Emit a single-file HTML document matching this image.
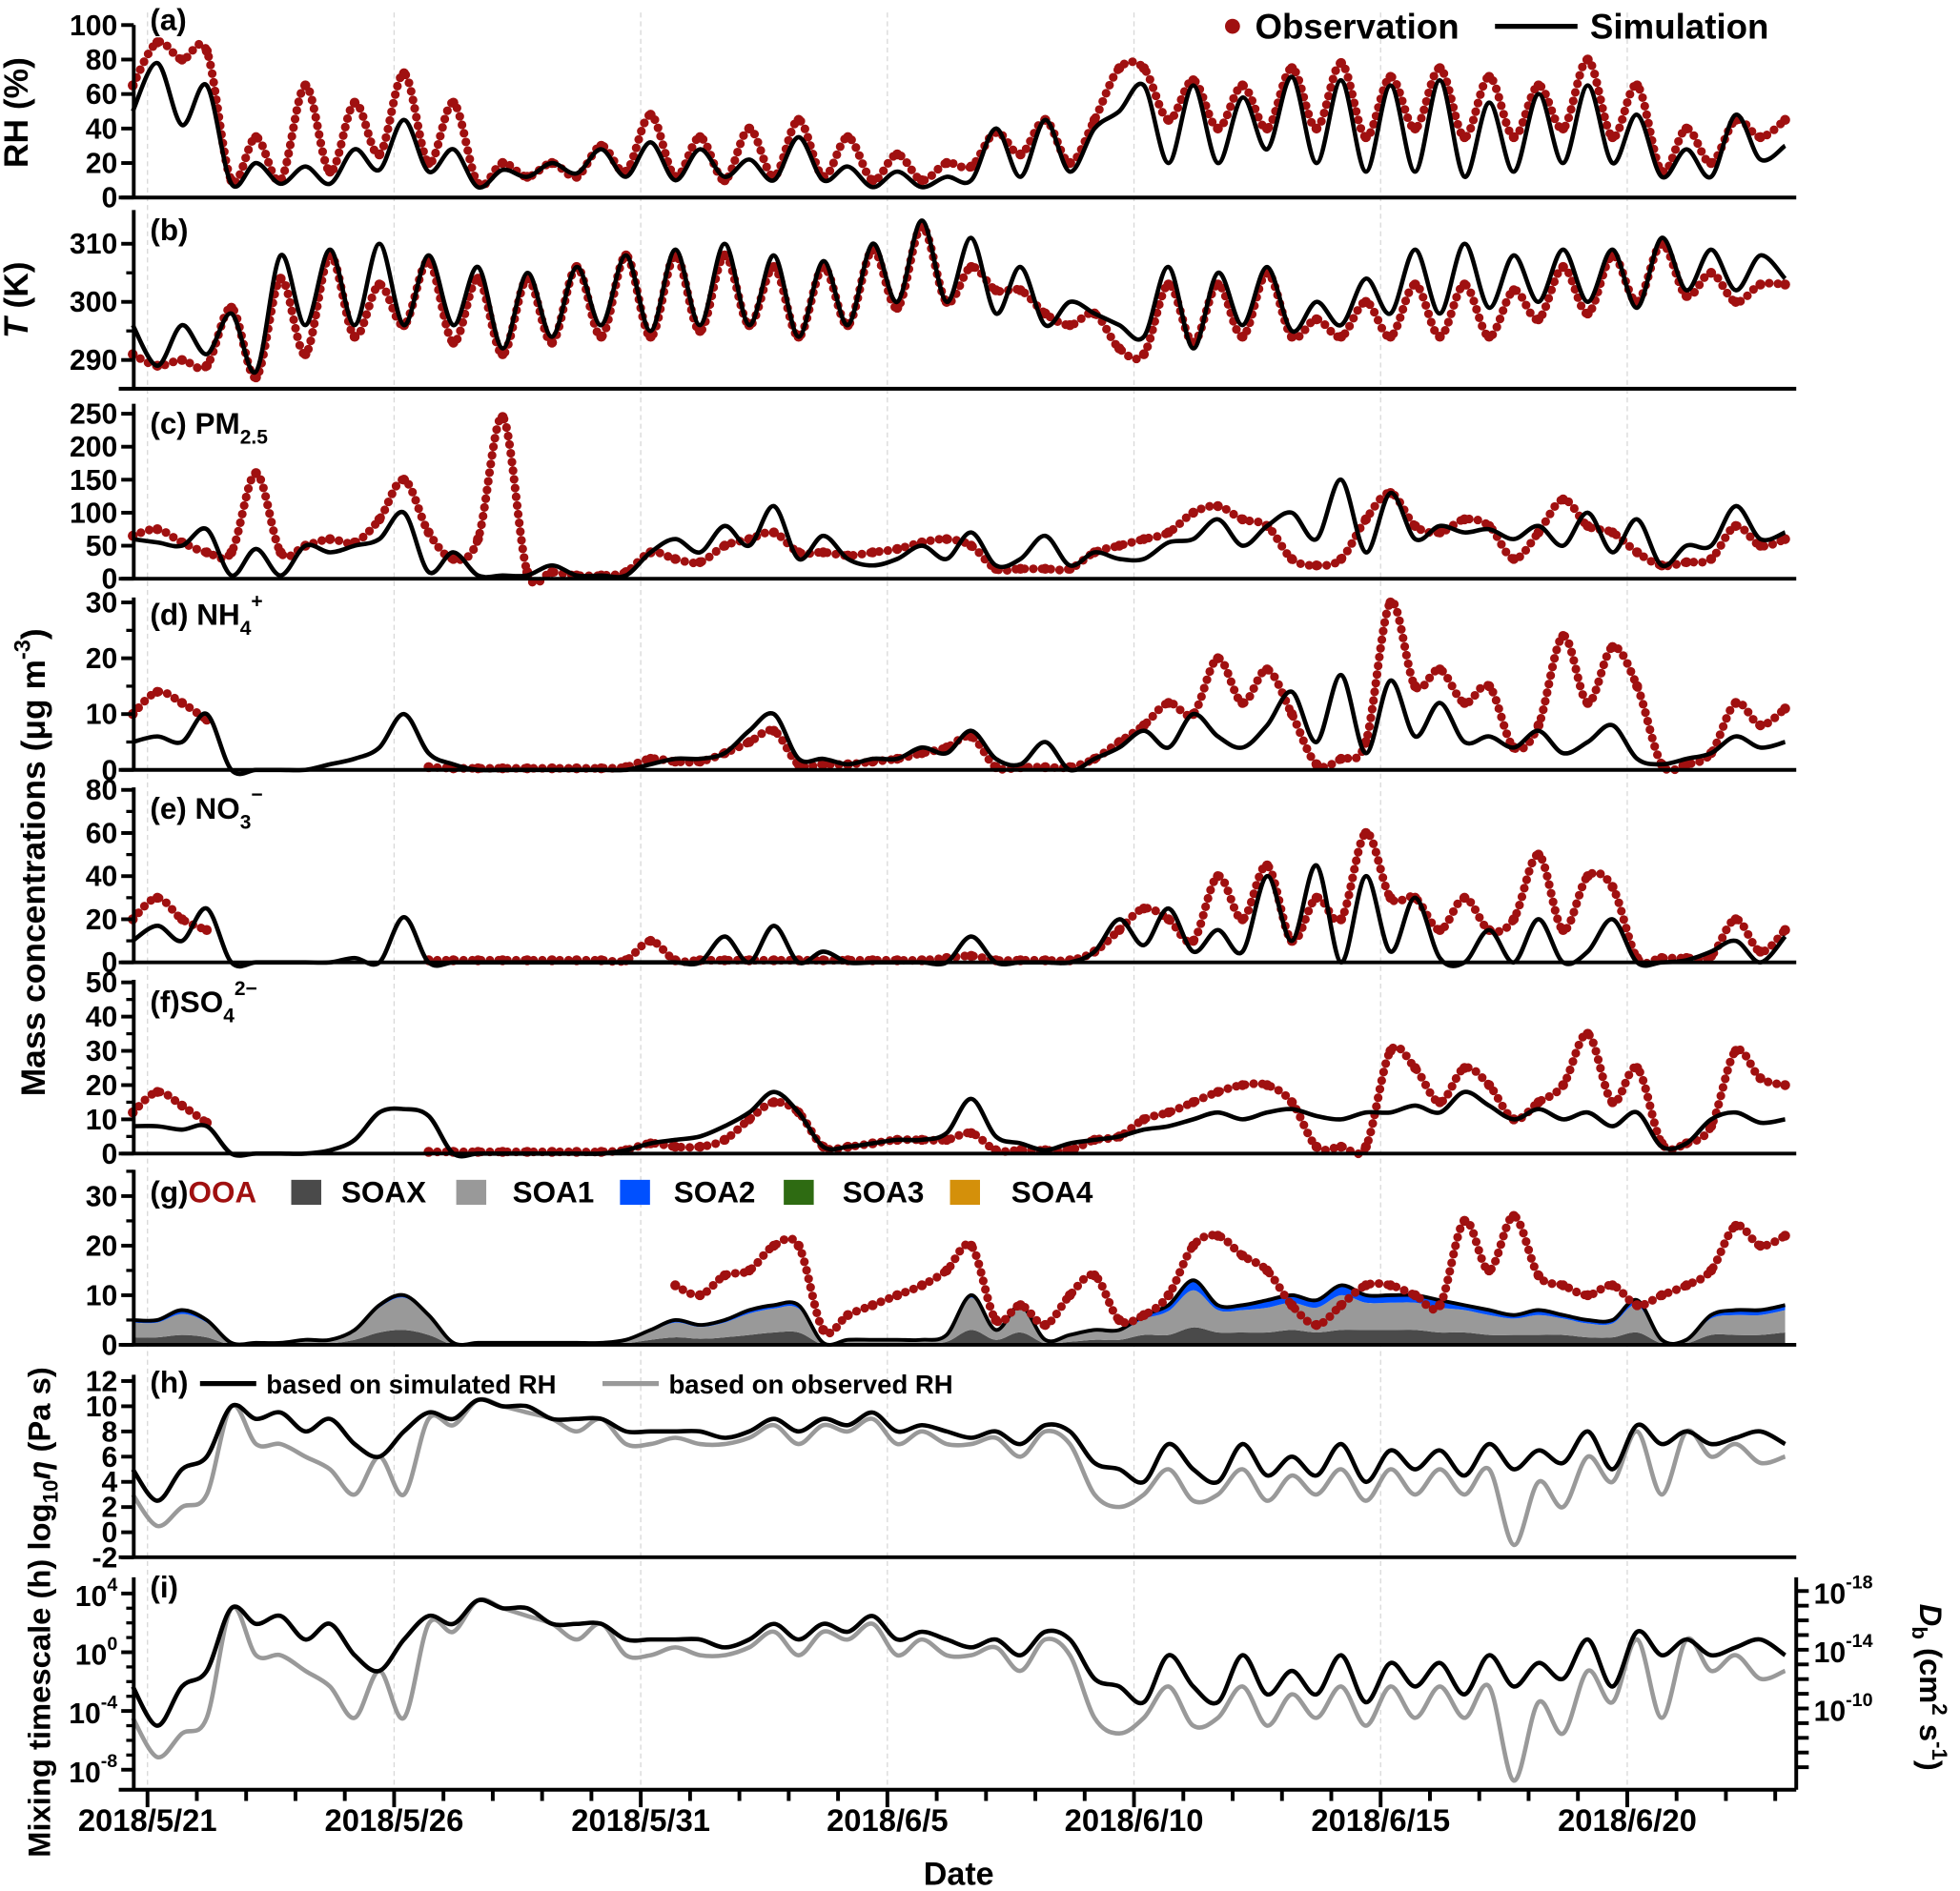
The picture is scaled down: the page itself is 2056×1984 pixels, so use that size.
<!DOCTYPE html>
<html><head><meta charset="utf-8"><title>Time series panels</title>
<style>
html,body{margin:0;padding:0;background:#fff;}
svg{display:block;}
text{font-family:"Liberation Sans Narrow","Liberation Sans",sans-serif;font-weight:bold;fill:#000;}
</style></head>
<body>
<svg id="chart" xmlns="http://www.w3.org/2000/svg" width="2056" height="1984" viewBox="0 0 1568 1513">
<g id="grid"></g>
<g id="panels"></g>
<g id="axes"></g>
<g id="labels">
  <text x="120" y="24" font-size="24">(a)</text>
  <text x="120" y="192" font-size="24">(b)</text>
  <text x="120" y="347" font-size="24">(c) PM<tspan font-size="16" dy="8">2.5</tspan></text>
  <text x="120" y="500" font-size="24">(d) NH<tspan font-size="16" dy="8">4</tspan><tspan font-size="16" dy="-22">+</tspan></text>
  <text x="120" y="655" font-size="24">(e) NO<tspan font-size="16" dy="8">3</tspan><tspan font-size="16" dy="-22">−</tspan></text>
  <text x="120" y="810" font-size="24">(f)SO<tspan font-size="16" dy="8">4</tspan><tspan font-size="16" dy="-22">2−</tspan></text>
  <text x="120" y="962" font-size="24">(g)<tspan fill="#a01010" style="fill:#a01010">OOA</tspan></text>
  <text x="120" y="1114" font-size="24">(h)</text>
  <text x="120" y="1278" font-size="24">(i)</text>

  <circle cx="986" cy="21" r="6" fill="#a01010"/>
  <text x="1004" y="31" font-size="28" font-family="Liberation Sans">Observation</text>
  <line x1="1196" y1="21" x2="1262" y2="21" stroke="#000" stroke-width="4"/>
  <text x="1272" y="31" font-size="28" font-family="Liberation Sans">Simulation</text>

  <rect x="233" y="944" width="24" height="20" fill="#4a4a4a"/>
  <text x="273" y="962" font-size="24">SOAX</text>
  <rect x="365" y="944" width="24" height="20" fill="#999"/>
  <text x="410" y="962" font-size="24">SOA1</text>
  <rect x="496" y="944" width="24" height="20" fill="#0050ff"/>
  <text x="539" y="962" font-size="24">SOA2</text>
  <rect x="627" y="944" width="24" height="20" fill="#2e6b12"/>
  <text x="674" y="962" font-size="24">SOA3</text>
  <rect x="760" y="944" width="24" height="20" fill="#d4900a"/>
  <text x="809" y="962" font-size="24">SOA4</text>

  <line x1="160" y1="1107" x2="205" y2="1107" stroke="#000" stroke-width="4"/>
  <text x="213" y="1115" font-size="21">based on simulated RH</text>
  <line x1="482" y1="1107" x2="527" y2="1107" stroke="#999" stroke-width="4"/>
  <text x="535" y="1115" font-size="21">based on observed RH</text>

  <text transform="translate(22,90) rotate(-90)" text-anchor="middle" font-size="27" font-family="Liberation Sans">RH (%)</text>
  <text transform="translate(22,240) rotate(-90)" text-anchor="middle" font-size="27" font-family="Liberation Sans"><tspan font-style="italic">T</tspan> (K)</text>
  <text transform="translate(36,690) rotate(-90)" text-anchor="middle" font-size="27" font-family="Liberation Sans">Mass concentrations (μg m<tspan font-size="18" dy="-12">-3</tspan><tspan dy="12">)</tspan></text>
  <text transform="translate(40,1290) rotate(-90)" text-anchor="middle" font-size="25" font-family="Liberation Sans">Mixing timescale (h)  log<tspan font-size="17" dy="6">10</tspan><tspan dy="-6" font-style="italic">η</tspan> (Pa s)</text>
  <text transform="translate(1536,1350) rotate(90)" text-anchor="middle" font-size="25" font-family="Liberation Sans"><tspan font-style="italic">D</tspan><tspan font-size="17" dy="6">b</tspan><tspan dy="-6"> (cm</tspan><tspan font-size="17" dy="-10">2</tspan><tspan dy="10"> s</tspan><tspan font-size="17" dy="-10">-1</tspan><tspan dy="10">)</tspan></text>
  <text x="767" y="1508" text-anchor="middle" font-size="26" font-family="Liberation Sans">Date</text>
</g>
<script>
// ---- data (12-hour samples starting 2018/5/20 16:48) ----
const dayStart = -0.3;
const dayStep = 0.5;
const rhSim = [50,78,42,65,8,20,8,18,8,28, 16,45,15,28,6,16,12,20,14,28, 12,32,10,28,12,22,10,35,10,18, 6,15,6,12,10,40,12,45,15,40, 50,65,20,65,20,58,28,70,20,68, 15,65,15,68,12,55,15,60,20,65, 20,48,12,28,12,48,22,30];
const rhObs = [65,90,80,85,10,35,10,65,15,55, 25,72,20,55,8,20,12,20,12,30, 15,48,12,35,10,40,12,45,12,35, 10,25,10,20,18,38,25,45,20,45, 75,75,45,68,40,65,40,75,40,78, 35,70,40,75,35,70,35,65,40,80, 35,65,15,40,20,45,35,45];
const tSim = [296,289,296,291,298,288,308,296,309,296, 310,296,308,296,306,292,305,294,306,296, 308,295,309,296,310,296,308,294,307,296, 310,300,314,300,311,298,306,296,300,298, 296,294,306,292,305,296,306,295,300,296, 304,298,309,298,310,299,308,300,309,300, 309,299,311,302,309,302,308,304];
const tObs = [291,289,290,289,299,287,304,291,308,294, 303,296,307,293,304,291,304,293,306,294, 308,294,308,295,308,296,306,294,306,296, 309,299,313,300,306,302,302,298,296,298, 292,291,303,293,303,294,305,294,297,294, 300,294,303,294,303,294,302,297,306,298, 308,300,310,301,305,300,303,303];
const pmSim = [60,55,50,75,5,45,5,50,40,50, 60,100,10,40,5,5,5,20,5,5, 5,40,60,40,80,50,110,30,65,30, 20,30,50,30,70,20,30,65,20,40, 30,30,55,60,90,50,80,100,60,150, 40,130,60,80,70,75,60,80,50,100, 40,90,20,50,50,110,60,70];
const pmObs = [65,75,55,40,40,160,40,50,60,55, 90,150,70,30,60,245,10,10,5,5, 10,40,30,25,50,60,70,40,40,35, 40,45,55,60,50,15,15,15,15,40, 50,60,70,100,110,90,80,30,20,30, 90,130,80,70,90,80,30,70,120,80, 70,40,20,25,30,80,50,60];
const nhSim = [5,6,5,10,0,0,0,0,1,2, 4,10,3,1,0,0,0,0,0,0, 0,1,2,2,3,7,10,2,2,1, 2,2,4,3,7,2,1,5,0,2, 4,7,4,10,6,4,8,14,5,17, 3,16,6,12,5,6,4,7,3,5, 8,2,1,2,3,6,4,5];
const nhObs = [10,14,12,9,null,null,null,null,null,null, null,null,0.5,0.3,0.3,0.3,0.3,0.3,0.3,0.3, 0.5,2,1.5,1.5,3,5,7,1,1,1, 1.5,2,3,4,6,0.5,0.5,0.5,0.5,2, 5,8,12,10,20,12,18,10,1,2, 5,30,15,18,12,15,4,8,24,12, 22,15,1,1,3,12,8,11];
const no3Sim = [10,17,10,25,0,0,0,0,0,2, 0,21,0,0,0,0,0,0,0,0, 0,0,0,0,12,0,17,0,5,0, 0,0,0,0,12,0,0,0,0,5, 20,8,25,5,15,5,40,10,45,0, 40,5,30,2,0,15,0,20,0,5, 20,0,0,1,5,10,0,12];
const no3Obs = [20,30,20,15,null,null,null,null,null,null, null,null,1,1,1,1,1,1,1,1, 1,10,1,1,1,1,1,1,1,1, 1,1,1,2,3,1,1,1,1,5, 15,25,20,10,40,20,45,10,30,20, 60,30,30,15,30,15,20,50,15,40, 35,2,2,2,3,20,5,15];
const so4Sim = [8,8,7,8,0,0,0,0,1,4, 12,13,11,0,0,0,0,0,0,0, 1,3,4,5,8,12,18,12,2,2, 3,4,4,6,16,5,3,1,3,4, 5,7,8,10,12,10,12,13,11,10, 12,12,14,12,18,14,10,13,10,12, 8,12,2,3,10,12,9,10];
const so4Obs = [12,18,14,9,null,null,null,null,null,null, null,null,0.5,0.5,0.5,0.5,0.5,0.5,0.5,0.5, 1,3,2,2,4,10,15,12,2,2, 3,4,4,4,6,1,1,1,1,4, 5,10,12,15,18,20,20,15,2,2, 2,30,25,15,25,20,10,15,20,35, 15,25,3,3,8,30,22,20];
const soax = [1.5,1.5,2,1.5,0,0,0,0.3,0.3,1, 2.5,3,2,0,0,0,0,0,0,0, 0.3,1,1.5,1.2,1.5,2,2.5,2.5,0,0.3, 0.3,0.3,0.3,0.6,3,1,2.5,0.3,0.6,1, 1,2,2,3.5,2.5,2.5,2.5,3,2.5,3, 3,3,3,2.5,2.5,2,2,2,2,1.5, 1.5,2.5,0.3,0.3,2,2,2,2.5];
const soa1 = [3,3,4.2,3,0.4,0.4,0.4,0.6,0.6,1.8, 5,6.5,3.8,0.4,0.4,0.4,0.4,0.4,0.4,0.4, 0.6,1.7,3,2.4,3,4.3,4.8,4.8,0.4,0.6, 0.6,0.6,0.6,1.2,6.5,1.8,5,0.6,1.2,1.7, 1.7,3.2,4.8,7.5,4.5,4.5,5,5.5,5,7, 5.5,5.5,5.5,5,4.5,4,3.3,4,3.3,2.8, 2.8,5.5,0.6,0.6,3.3,4,4,4.5];
const soa2 = [0.5,0.5,0.8,0.5,0,0,0,0.1,0.1,0.2, 0.5,0.5,0.2,0,0,0,0,0,0,0, 0.1,0.3,0.5,0.4,0.5,0.7,0.7,0.7,0,0.1, 0.1,0.1,0.1,0.2,0.5,0.2,0.5,0.1,0.2,0.3, 0.3,0.8,1.2,2,1,1,1.5,1.5,1.5,2, 1.5,1.5,1.5,1.5,1,1,0.7,1,0.7,0.7, 0.7,1,0.1,0.1,0.7,1,1,1];
const ooaObs = [null,null,null,null,null,null,null,null,null,null, null,null,null,null,null,null,null,null,null,null, null,null,12,10,14,15,20,20,3,6, 8,10,12,15,20,5,8,4,10,14, 5,6,10,20,22,18,15,8,4,8, 12,12,10,8,25,15,26,14,12,10, 12,8,10,12,15,24,20,22];
const etaSim = [5,2.5,5,6,10,9,9.5,8,9,7, 6,8,9.5,9,10.5,10,10,9,9,9, 8,8,8,8,7.5,8,9,8,9,8.5, 9.5,8,8.5,8,7.5,8,7,8.5,8,5.5, 5,4,7,5,4,7,4.5,6,4.5,7, 4,6.5,5,6.5,4.5,7,5,6.5,5.5,8, 5,8.5,7,8,7,7.5,8,7];
const etaObs = [3,0.5,2,3,10,7,7,6,5,3, 6,3,9,8.5,10.5,10,9.5,9,8,9, 7,7,7.5,7,7,7.5,8.5,7,8.5,8, 9,7,8,7,7,7.5,6,8,7,3, 2,3,5,2.5,3,5,2.5,4.5,3,5, 2.5,5,3,5,3,5,-1,4,2,6, 4,8,3,8,6,7,5.5,6];
// mixing timescale (log10 h) follows from viscosity
const tauSim = etaSim.map(v => 1.067 * v - 7.67);
const tauObs = etaObs.map(v => 1.067 * v - 7.67);
const dateLabels = ["2018/5/21","2018/5/26","2018/5/31","2018/6/5","2018/6/10","2018/6/15","2018/6/20"];
const dateTickDays = [0,5,10,15,20,25,30];

// ---- scales ----
const NS = "http://www.w3.org/2000/svg";
const X0 = 107, X1 = 1437;
function xDay(d){ return 118 + 39.46 * d; }
function xIdx(i){ return xDay(dayStart + dayStep * i); }
function lin(v0, y0, v1, y1){ return v => y0 + (v - v0) * (y1 - y0) / (v1 - v0); }
const yA = lin(0,158,100,20);
const yB = lin(290,288,310,195);
const yC = lin(0,463,250,331);
const yD = lin(0,616,30,482);
const yE = lin(0,770,80,632);
const yF = lin(0,923,50,786);
const yG = lin(0,1076,30,957);
const yH = lin(0,1226,12,1105);
const yI = lin(0,1322,4,1275);
const yDb = lin(-18,1273,-10,1367);

const grid = document.getElementById('grid');
const panels = document.getElementById('panels');
const axes = document.getElementById('axes');
function mk(tag, attrs, parent){
  const e = document.createElementNS(NS, tag);
  for (const k in attrs) e.setAttribute(k, attrs[k]);
  (parent || panels).appendChild(e);
  return e;
}
function segs(arr, ys){
  const out = []; let cur = [];
  arr.forEach((v,i) => {
    if (v === null || v === undefined) { if (cur.length) out.push(cur); cur = []; }
    else cur.push([xIdx(i), ys(v)]);
  });
  if (cur.length) out.push(cur);
  return out;
}
// Catmull-Rom smoothing for drawing
function smoothD(pts){
  if (pts.length < 2) return 'M' + pts[0][0] + ',' + pts[0][1];
  let d = 'M' + pts[0][0].toFixed(1) + ',' + pts[0][1].toFixed(1);
  for (let i = 0; i < pts.length - 1; i++) {
    const p0 = pts[Math.max(0,i-1)], p1 = pts[i], p2 = pts[i+1], p3 = pts[Math.min(pts.length-1,i+2)];
    const c1x = p1[0] + (p2[0]-p0[0])/6, c1y = p1[1] + (p2[1]-p0[1])/6;
    const c2x = p2[0] - (p3[0]-p1[0])/6, c2y = p2[1] - (p3[1]-p1[1])/6;
    d += ' C' + c1x.toFixed(1)+','+c1y.toFixed(1)+' '+c2x.toFixed(1)+','+c2y.toFixed(1)+' '+p2[0].toFixed(1)+','+p2[1].toFixed(1);
  }
  return d;
}
function line(arr, ys, color, w, name){
  segs(arr, ys).forEach(s => {
    const p = mk('path', {d: smoothD(s), fill:'none', stroke:color, 'stroke-width':w, 'stroke-linejoin':'round'});
    
    
  });
}
function dots(arr, ys, name){
  segs(arr, ys).forEach(s => {
    const p = mk('path', {d: smoothD(s), fill:'none', stroke:'#a01010', 'stroke-width':7, 'stroke-linecap':'round', 'stroke-dasharray':'0 7'});
    
    
    s.forEach(q => {
      const c = mk('circle', {cx:q[0].toFixed(1), cy:q[1].toFixed(1), r:4, fill:'#a01010'});
      
      
    });
  });
}
function powLabel(parent, x, y, anchor, exp, name){
  const t = mk('text', {x:x, y:y, 'text-anchor':anchor, 'font-size':23}, parent);
  
  
  const a = document.createElementNS(NS, 'tspan');
  a.textContent = '10';
  t.appendChild(a);
  const b = document.createElementNS(NS, 'tspan');
  b.setAttribute('font-size', '15');
  b.setAttribute('dy', '-12');
  b.textContent = String(exp);
  t.appendChild(b);
  return t;
}

// gridlines
dateTickDays.forEach(d => {
  const l = mk('line', {x1:xDay(d), x2:xDay(d), y1:10, y2:1432, stroke:'#d8d8d8', 'stroke-width':1, 'stroke-dasharray':'4 3'}, grid);
  
  
});

// panel (g) stacked areas
function area(lower, upper, color, name){
  const top = upper.map((v,i) => [xIdx(i), yG(v)]);
  const bot = lower.map((v,i) => [xIdx(i), yG(v)]).reverse();
  const d = smoothD(top) + ' L' + smoothD(bot).slice(1) + ' Z';
  const p = mk('path', {d: d, fill:color, stroke:'none'});
  
  
}
const zero = soax.map(() => 0);
const c1 = soax.map((v,i) => v + soa1[i]);
const c2 = c1.map((v,i) => v + soa2[i]);
area(zero, soax, '#4a4a4a', 'soax-area');
area(soax, c1, '#999999', 'soa1-area');
area(c1, c2, '#0050ff', 'soa2-area');

// series
dots(rhObs, yA, 'rh-observation'); line(rhSim, yA, '#000', 3.5, 'rh-simulation-line');
dots(tObs, yB, 't-observation'); line(tSim, yB, '#000', 3.5, 't-simulation-line');
dots(pmObs, yC, 'pm25-observation'); line(pmSim, yC, '#000', 3.5, 'pm25-simulation-line');
dots(nhObs, yD, 'nh4-observation'); line(nhSim, yD, '#000', 3.5, 'nh4-simulation-line');
dots(no3Obs, yE, 'no3-observation'); line(no3Sim, yE, '#000', 3.5, 'no3-simulation-line');
dots(so4Obs, yF, 'so4-observation'); line(so4Sim, yF, '#000', 3.5, 'so4-simulation-line');
line(c2, yG, '#000', 3, 'soa-total-line');
dots(ooaObs, yG, 'ooa-observation');
line(etaObs, yH, '#999', 3.5, 'eta-observed-rh-line'); line(etaSim, yH, '#000', 3.5, 'eta-simulated-rh-line');
line(tauObs, yI, '#999', 3.5, 'tau-observed-rh-line'); line(tauSim, yI, '#000', 3.5, 'tau-simulated-rh-line');

// axes
function leftAxis(top, bottom, ticks, ys, name, minor, isPow){
  const a = mk('line', {x1:X0, x2:X0, y1:top, y2:bottom, stroke:'#000', 'stroke-width':3}, axes);
  
  
  const b = mk('line', {x1:X0-12, x2:X1, y1:bottom, y2:bottom, stroke:'#000', 'stroke-width':3}, axes);
  
  
  ticks.forEach(v => {
    const y = ys(v);
    const t = mk('line', {x1:X0-10, x2:X0, y1:y, y2:y, stroke:'#000', 'stroke-width':3}, axes);
    
    
    if (isPow) {
      powLabel(axes, X0-13, y+10, 'end', v, name + '-tick-label');
    } else {
      const tx = mk('text', {x:X0-13, y:y+8, 'text-anchor':'end', 'font-size':23}, axes);
      
      
      tx.textContent = String(v);
    }
  });
  (minor || []).forEach(v => {
    const y = ys(v);
    const t = mk('line', {x1:X0-6, x2:X0, y1:y, y2:y, stroke:'#000', 'stroke-width':2.5}, axes);
    
    
  });
}
const aTicks = [0,20,40,60,80,100];
leftAxis(20,158,aTicks,yA,'rh');
const bTicks = [290,300,310];
leftAxis(168,311,bTicks,yB,'t',[295,305]);
const cTicks = [0,50,100,150,200,250];
leftAxis(323,463,cTicks,yC,'pm25');
const dTicks = [0,10,20,30];
leftAxis(478,616,dTicks,yD,'nh4',[5,15,25]);
const eTicks = [0,20,40,60,80];
leftAxis(630,770,eTicks,yE,'no3',[10,30,50,70]);
const fTicks = [0,10,20,30,40,50];
leftAxis(784,923,fTicks,yF,'so4',[5,15,25,35,45]);
const gTicks = [0,10,20,30];
leftAxis(936,1076,gTicks,yG,'ooa',[5,15,25,35]);
const hTicks = [-2,0,2,4,6,8,10,12];
leftAxis(1100,1246,hTicks,yH,'eta');
const iTicks = [-8,-4,0,4];
leftAxis(1262,1432,iTicks,yI,'tau',[-7,-6,-5,-3,-2,-1,1,2,3],true);

// right Db axis
const ra = mk('line', {x1:X1, x2:X1, y1:1262, y2:1432, stroke:'#000', 'stroke-width':3}, axes);


const dbTicks = [-18,-14,-10];
dbTicks.forEach(v => {
  powLabel(axes, X1+14, yDb(v)+10, 'start', v, 'db-tick-label');
});
for (let v = -18; v <= -6; v++) {
  const y = yDb(v);
  if (y > 1430) break;
  const t = mk('line', {x1:X1, x2:X1+10, y1:y, y2:y, stroke:'#000', 'stroke-width':3}, axes);
  
  
}

// x axis ticks
for (let d = 0; d <= 33; d++) {
  const major = dateTickDays.indexOf(d) >= 0;
  const t = mk('line', {x1:xDay(d), x2:xDay(d), y1:1432, y2:1432 + (major ? 14 : 9), stroke:'#000', 'stroke-width':3}, axes);
  
  
}
dateLabels.forEach((s,k) => {
  const t = mk('text', {x:xDay(dateTickDays[k]), y:1465, 'text-anchor':'middle', 'font-size':25}, axes);
  
  
  t.textContent = s;
});
</script>
</svg>
</body></html>
